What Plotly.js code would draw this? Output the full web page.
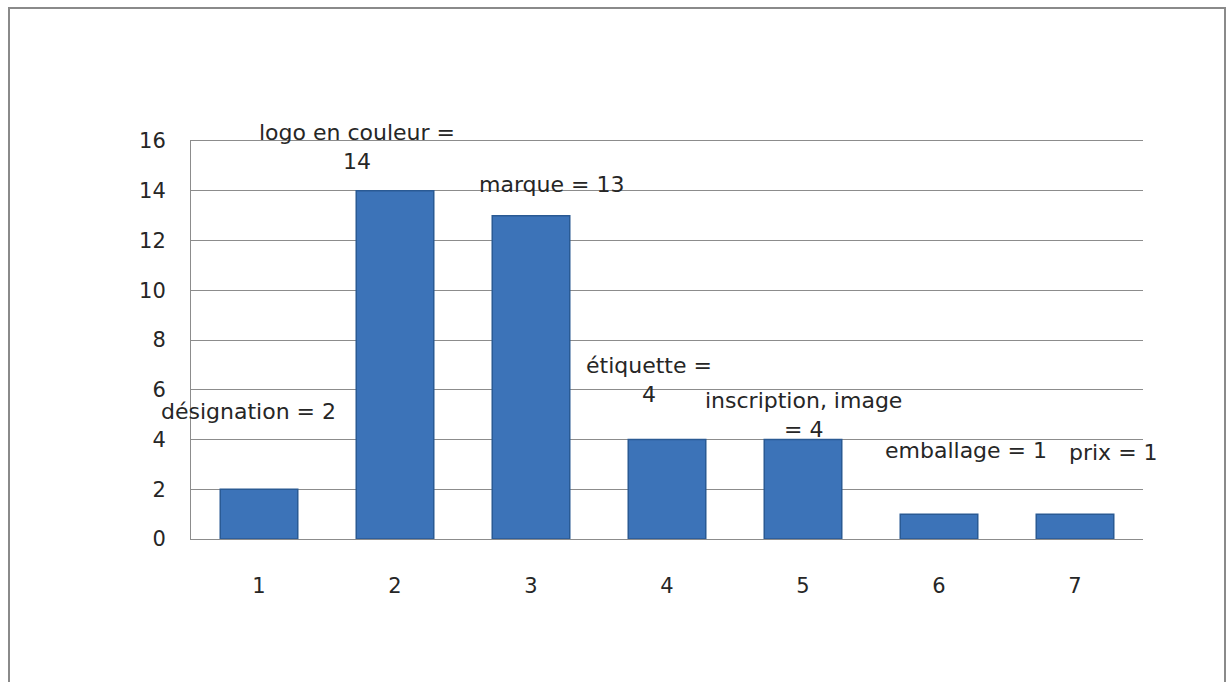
<!DOCTYPE html>
<html>
<head>
<meta charset="utf-8">
<script src="https://cdn.plot.ly/plotly-3.0.1.min.js"></script>
<style>
html,body{margin:0;padding:0;background:#fff;overflow:hidden;}
#chart{position:absolute;left:0;top:0;width:1232px;height:682px;}
#frame{position:absolute;left:8px;top:7px;width:1214px;height:720px;border:2px solid #8a8a8a;pointer-events:none;}
</style>
</head>
<body>
<div id="chart"></div>
<div id="frame"></div>
<script>
// Data
const categories = [1, 2, 3, 4, 5, 6, 7];
const values = [2, 14, 13, 4, 4, 1, 1];
const labels = [
  'désignation = 2',
  'logo en couleur =<br>14',
  'marque = 13',
  'étiquette =<br>4',
  'inscription, image<br>= 4',
  'emballage = 1',
  'prix = 1'
];
const yTicks = [0, 2, 4, 6, 8, 10, 12, 14, 16];

// Label placement (offsets from bar top)
const labelDx = [-0.08, -0.28, 0.15, -0.13, 0.0, 0.2, 0.28];
const labelShift = [78, 44, 31, 60, 25, 64, 62];

const FONT = 'DejaVu Sans, sans-serif';
const TXT = '#262626';

const trace = {
  type: 'bar',
  x: categories,
  y: values,
  width: 0.57,
  marker: {
    color: '#3c73b8',
    line: {color: '#2a5a94', width: 1.5}
  },
  hoverinfo: 'none'
};

const annotations = labels.map((t, i) => ({
  x: categories[i] + labelDx[i],
  y: values[i],
  xref: 'x', yref: 'y',
  text: t,
  showarrow: false,
  yshift: labelShift[i],
  align: 'center',
  font: {family: FONT, size: 22, color: TXT}
}));

const layout = {
  width: 1232, height: 682,
  margin: {l: 191, r: 89, t: 141, b: 143},
  paper_bgcolor: '#fff', plot_bgcolor: '#fff',
  showlegend: false,
  bargap: 0.43,
  font: {family: FONT, size: 22, color: TXT},
  xaxis: {
    range: [0.5, 7.5],
    tickvals: categories,
    ticktext: categories.map(String),
    showgrid: false,
    zeroline: false,
    showline: true, mirror: true, linecolor: '#8c8c8c', linewidth: 1,
    ticks: 'outside', ticklen: 28, tickcolor: 'rgba(0,0,0,0)',
    tickfont: {family: FONT, size: 21, color: TXT},
    fixedrange: true
  },
  yaxis: {
    range: [0, 16],
    tickvals: yTicks,
    ticktext: yTicks.map(String),
    showgrid: true, gridcolor: '#8c8c8c', gridwidth: 1,
    zeroline: true, zerolinecolor: '#8c8c8c', zerolinewidth: 1,
    showline: true, linecolor: '#8c8c8c', linewidth: 1,
    ticks: 'outside', ticklen: 20, tickcolor: 'rgba(0,0,0,0)',
    tickfont: {family: FONT, size: 21, color: TXT},
    fixedrange: true
  },
  annotations: annotations
};

Plotly.newPlot('chart', [trace], layout, {displayModeBar: false, staticPlot: true});
</script>
</body>
</html>
